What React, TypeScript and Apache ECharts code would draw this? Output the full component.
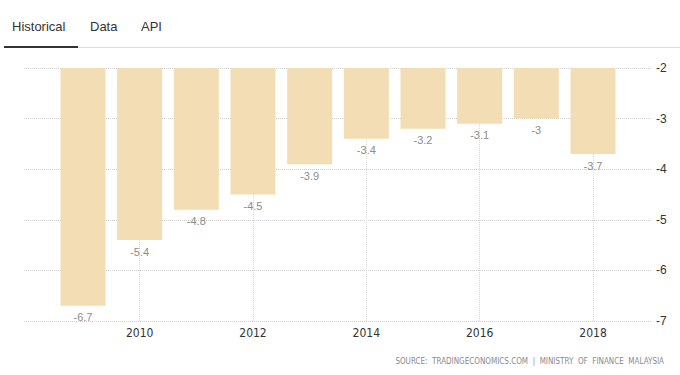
import React, { useEffect, useRef } from "react";
import * as echarts from "echarts";

const years = ["2009", "2010", "2011", "2012", "2013", "2014", "2015", "2016", "2017", "2018"];
const values = [-6.7, -5.4, -4.8, -4.5, -3.9, -3.4, -3.2, -3.1, -3.0, -3.7];
const labelYears = ["2010", "2012", "2014", "2016", "2018"];
const tabs = ["Historical", "Data", "API"];
const sourceText = "SOURCE:  TRADINGECONOMICS.COM  |  MINISTRY  OF  FINANCE  MALAYSIA";

export default function App() {
  const ref = useRef<HTMLDivElement>(null);
  useEffect(() => {
    if (!ref.current) return;
    const chart = echarts.init(ref.current, null, { renderer: "svg" });
    const narrow = "'Liberation Sans Narrow', 'Arial Narrow', 'DejaVu Sans Condensed', 'Liberation Sans', sans-serif";
    const tabX = [12, 90, 141];
    chart.setOption({
      animation: false,
      backgroundColor: "#ffffff",
      graphic: [
        ...tabs.map((t, i) => ({
          type: "text",
          left: tabX[i],
          top: 20,
          style: { text: t, fill: "#333333", fontSize: 13, fontFamily: "'Liberation Sans', Arial, sans-serif" },
        })),
        { type: "rect", shape: { x: 4, y: 46, width: 74, height: 2 }, style: { fill: "#333333" } },
        { type: "rect", shape: { x: 78, y: 47, width: 602, height: 1 }, style: { fill: "#dddddd" } },
        {
          type: "text",
          right: 16,
          top: 357,
          style: { text: sourceText, fill: "#8a8a8a", fontSize: 8, fontFamily: narrow },
        },
      ],
      grid: [
        { left: 24, right: 28, top: 68, bottom: 54 },
        { left: 54.65, right: 58.65, top: 68, bottom: 54 },
      ],
      xAxis: [
        { type: "value", gridIndex: 0, show: false, min: 0, max: 1 },
        {
          type: "category",
          gridIndex: 1,
          data: years,
          boundaryGap: true,
          axisLine: { show: false },
          axisTick: { show: false },
          splitLine: { show: false },
          axisLabel: {
            interval: (idx: number) => labelYears.includes(years[idx]),
            color: "#333333",
            fontSize: 12,
            fontFamily: narrow,
            margin: 6,
          },
        },
      ],
      yAxis: [
        {
          type: "value",
          gridIndex: 0,
          position: "right",
          min: -7,
          max: -2,
          interval: 1,
          axisLine: { show: false },
          axisTick: { show: false },
          axisLabel: { color: "#333333", fontSize: 12, margin: 4, fontFamily: "'Liberation Sans', Arial, sans-serif" },
          splitLine: { show: true, lineStyle: { color: "#cccccc", type: [1, 1], width: 1 } },
        },
        { type: "value", gridIndex: 1, show: false, min: -7, max: -2, splitLine: { show: false } },
      ],
      series: [
        {
          type: "bar",
          xAxisIndex: 1,
          yAxisIndex: 1,
          data: values,
          barWidth: 45,
          clip: true,
          itemStyle: { color: "#f3ddb4" },
          label: {
            show: true,
            position: "bottom",
            distance: 6,
            color: "#8c8c8c",
            fontSize: 11,
            fontFamily: "'Liberation Sans', Arial, sans-serif",
            formatter: (p: any) => String(p.value),
          },
          markLine: {
            silent: true,
            symbol: "none",
            z: 1,
            label: { show: false },
            lineStyle: { color: "#d9d9d9", type: [1, 1], width: 1 },
            data: labelYears.map((y) => ({ xAxis: y })),
          },
        },
      ],
    });
    return () => chart.dispose();
  }, []);
  return (
    <div
      ref={ref}
      style={{ position: "absolute", left: 0, top: 0, width: 680, height: 375 }}
    />
  );
}
